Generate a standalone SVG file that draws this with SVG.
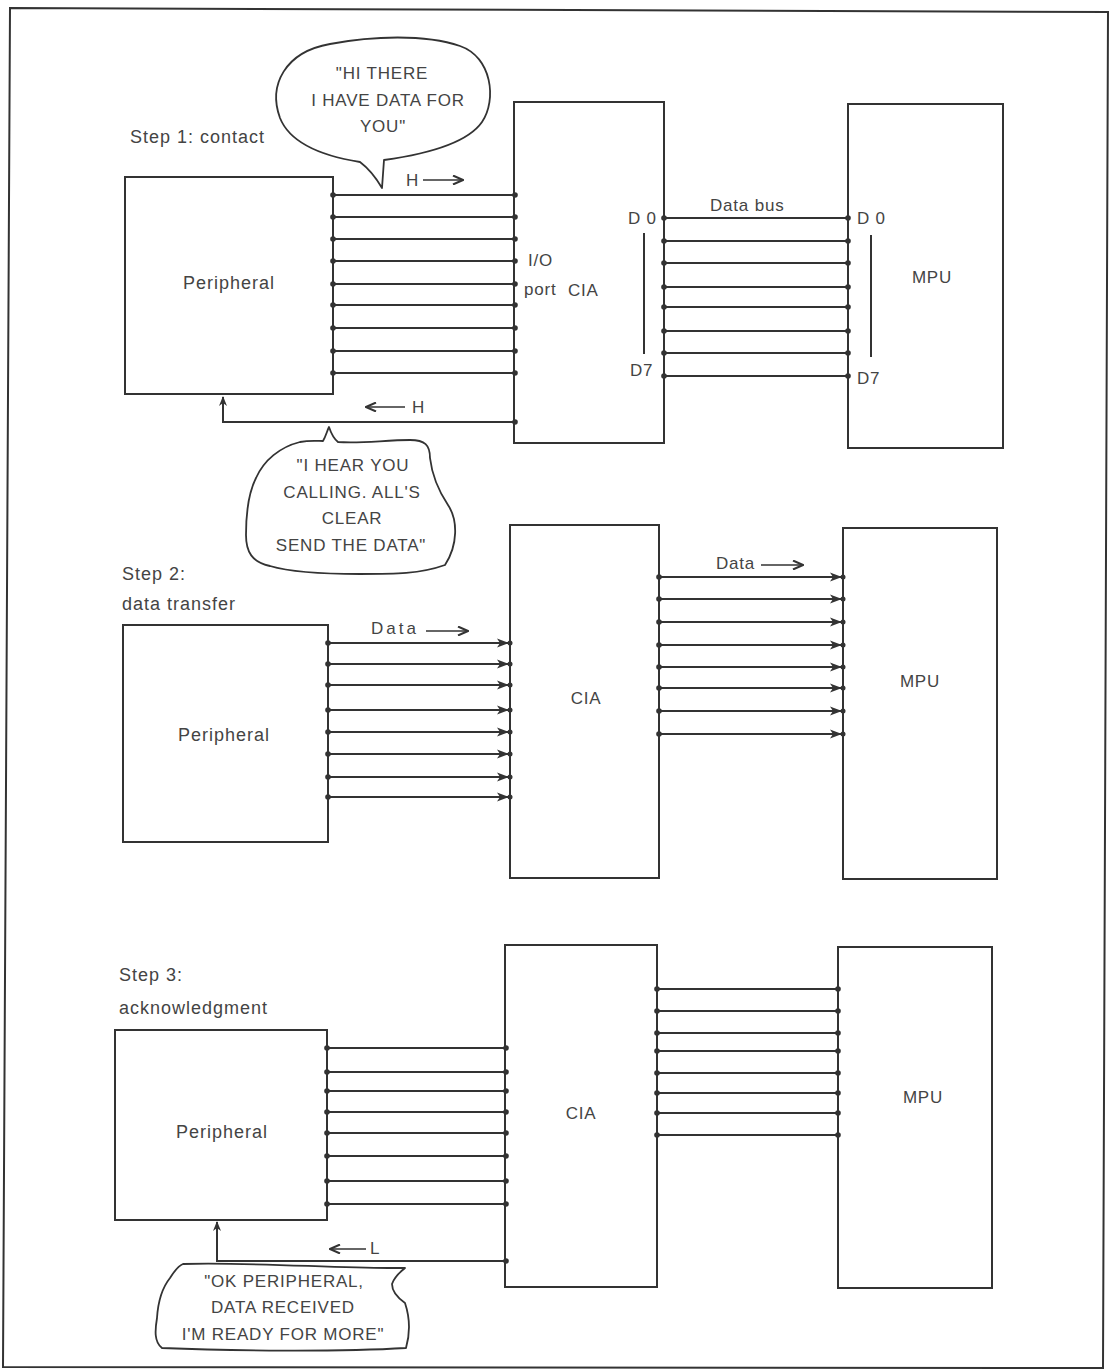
<svg xmlns="http://www.w3.org/2000/svg" width="1114" height="1371" viewBox="0 0 1114 1371">
<defs>
<style>
.box{fill:none;stroke:#333;stroke-width:2}
.w{fill:none;stroke:#333;stroke-width:2}
.thin{fill:none;stroke:#333;stroke-width:1.6}
.dot{fill:#333}
.t{font-family:"Liberation Sans",Arial,sans-serif;font-size:18px;fill:#444;letter-spacing:1px}
.s{font-family:"Liberation Sans",Arial,sans-serif;font-size:17px;fill:#444;letter-spacing:0.8px}
.bub{fill:#fff;stroke:#333;stroke-width:1.8;stroke-linejoin:round}
</style>
<marker id="ah" viewBox="0 0 12 10" refX="11" refY="5" markerWidth="12" markerHeight="10" markerUnits="userSpaceOnUse" orient="auto">
<path d="M0,0.5 L12,5 L0,9.5 L3,5 Z" fill="#333"/>
</marker>
<marker id="up" viewBox="0 0 10 10" refX="9" refY="5" markerWidth="10" markerHeight="10" markerUnits="userSpaceOnUse" orient="auto">
<path d="M0,1 L10,5 L0,9 L3,5 Z" fill="#333"/>
</marker>
<marker id="ch" viewBox="0 0 12 10" refX="11" refY="5" markerWidth="12" markerHeight="10" markerUnits="userSpaceOnUse" orient="auto">
<path d="M1,0.5 L11,5 L1,9.5" fill="none" stroke="#333" stroke-width="2"/>
</marker>
</defs>
<rect width="1114" height="1371" fill="#fff"/>
<path d="M10,8 L1108,12 L1103,1368 L3,1367 Z" fill="none" stroke="#333" stroke-width="2"/>

<!-- STEP 1 -->
<text class="t" x="130" y="143">Step 1: contact</text>
<g id="s1-peripheral"><rect class="box" x="125" y="177" width="208" height="217"/><text class="t" x="229" y="289" text-anchor="middle">Peripheral</text></g>
<g id="s1-cia"><rect class="box" x="514" y="102" width="150" height="341"/><text class="s" x="528" y="266">I/O</text><text class="s" x="524" y="295">port</text><text class="s" x="568" y="296">CIA</text>
<text class="s" x="628" y="224">D 0</text><text class="s" x="630" y="376">D7</text><line class="w" x1="644" y1="233" x2="644" y2="354"/></g>
<g id="s1-mpu"><rect class="box" x="848" y="104" width="155" height="344"/><text class="s" x="932" y="283" text-anchor="middle">MPU</text>
<text class="s" x="857" y="224">D 0</text><text class="s" x="857" y="384">D7</text><line class="w" x1="871" y1="235" x2="871" y2="357"/></g>
<g id="s1-bubble1"><path class="bub" d="M360,162 C335,158 292,148 280,118 C268,85 285,52 330,44 C372,36 425,34 460,46 C492,57 497,100 482,122 C466,145 420,155 384,160 L382,188 C375,176 368,168 360,162 Z"/>
<text class="s" x="382" y="79" text-anchor="middle">"HI THERE</text><text class="s" x="388" y="106" text-anchor="middle">I HAVE DATA FOR</text><text class="s" x="383" y="132" text-anchor="middle">YOU"</text></g>
<g id="s1-bubble2"><path class="bub" d="M323,441 C326,436 327,431 329,427 C331,433 333,438 338,442 C360,444 385,440 410,440 C425,440 430,445 430,458 C432,475 438,490 448,505 C458,520 458,545 445,565 C420,574 395,574 360,574 C320,574 290,572 270,566 C252,562 246,552 246,535 C246,510 250,490 256,478 C264,460 280,447 300,442 C310,440 318,441 323,441 Z"/>
<text class="s" x="353" y="471" text-anchor="middle">"I HEAR YOU</text><text class="s" x="352" y="498" text-anchor="middle">CALLING. ALL'S</text><text class="s" x="352" y="524" text-anchor="middle">CLEAR</text><text class="s" x="351" y="551" text-anchor="middle">SEND THE DATA"</text></g>

<!-- STEP 2 -->
<text class="t" x="122" y="580">Step 2:</text>
<text class="t" x="122" y="610">data transfer</text>
<g id="s2-peripheral"><rect class="box" x="123" y="625" width="205" height="217"/><text class="t" x="224" y="741" text-anchor="middle">Peripheral</text></g>
<g id="s2-cia"><rect class="box" x="510" y="525" width="149" height="353"/><text class="s" x="586" y="704" text-anchor="middle">CIA</text></g>
<g id="s2-mpu"><rect class="box" x="843" y="528" width="154" height="351"/><text class="s" x="920" y="687" text-anchor="middle">MPU</text></g>

<!-- STEP 3 -->
<text class="t" x="119" y="981">Step 3:</text>
<text class="t" x="119" y="1014">acknowledgment</text>
<g id="s3-peripheral"><rect class="box" x="115" y="1030" width="212" height="190"/><text class="t" x="222" y="1138" text-anchor="middle">Peripheral</text></g>
<g id="s3-cia"><rect class="box" x="505" y="945" width="152" height="342"/><text class="s" x="581" y="1119" text-anchor="middle">CIA</text></g>
<g id="s3-mpu"><rect class="box" x="838" y="947" width="154" height="341"/><text class="s" x="923" y="1103" text-anchor="middle">MPU</text></g>
<g id="s3-bubble"><path class="bub" d="M183,1264 C250,1262 330,1268 388,1268 L405,1268 C400,1272 394,1278 392,1284 C392,1292 398,1298 405,1303 C410,1318 410,1334 406,1348 C340,1352 230,1351 162,1348 C154,1342 155,1330 157,1318 C158,1302 162,1288 170,1278 C175,1270 178,1266 183,1264 Z"/>
<text class="s" x="284" y="1287" text-anchor="middle">"OK PERIPHERAL,</text><text class="s" x="283" y="1313" text-anchor="middle">DATA RECEIVED</text><text class="s" x="283" y="1340" text-anchor="middle">I'M READY FOR MORE"</text></g>

<g id="connectors">
<!-- step 1 port lines -->
<g class="w">
<line x1="333" y1="195" x2="515" y2="195"/><line x1="333" y1="217" x2="515" y2="217"/><line x1="333" y1="239" x2="515" y2="239"/><line x1="333" y1="261" x2="515" y2="261"/><line x1="333" y1="284" x2="515" y2="284"/><line x1="333" y1="305" x2="515" y2="305"/><line x1="333" y1="328" x2="515" y2="328"/><line x1="333" y1="351" x2="515" y2="351"/><line x1="333" y1="373" x2="515" y2="373"/>
<polyline points="515,422 223,422 223,397" marker-end="url(#up)"/>
<line x1="664" y1="218" x2="848" y2="218"/><line x1="664" y1="241" x2="848" y2="241"/><line x1="664" y1="263" x2="848" y2="263"/><line x1="664" y1="287" x2="848" y2="287"/><line x1="664" y1="307" x2="848" y2="307"/><line x1="664" y1="331" x2="848" y2="331"/><line x1="664" y1="353" x2="848" y2="353"/><line x1="664" y1="376" x2="848" y2="376"/>
</g>
<g class="dot">
<circle cx="333" cy="195" r="2.8"/><circle cx="333" cy="217" r="2.8"/><circle cx="333" cy="239" r="2.8"/><circle cx="333" cy="261" r="2.8"/><circle cx="333" cy="284" r="2.8"/><circle cx="333" cy="305" r="2.8"/><circle cx="333" cy="328" r="2.8"/><circle cx="333" cy="351" r="2.8"/><circle cx="333" cy="373" r="2.8"/>
<circle cx="515" cy="195" r="2.8"/><circle cx="515" cy="217" r="2.8"/><circle cx="515" cy="239" r="2.8"/><circle cx="515" cy="261" r="2.8"/><circle cx="515" cy="284" r="2.8"/><circle cx="515" cy="305" r="2.8"/><circle cx="515" cy="328" r="2.8"/><circle cx="515" cy="351" r="2.8"/><circle cx="515" cy="373" r="2.8"/><circle cx="515" cy="422" r="2.8"/>
<circle cx="664" cy="218" r="2.8"/><circle cx="664" cy="241" r="2.8"/><circle cx="664" cy="263" r="2.8"/><circle cx="664" cy="287" r="2.8"/><circle cx="664" cy="307" r="2.8"/><circle cx="664" cy="331" r="2.8"/><circle cx="664" cy="353" r="2.8"/><circle cx="664" cy="376" r="2.8"/>
<circle cx="848" cy="218" r="2.8"/><circle cx="848" cy="241" r="2.8"/><circle cx="848" cy="263" r="2.8"/><circle cx="848" cy="287" r="2.8"/><circle cx="848" cy="307" r="2.8"/><circle cx="848" cy="331" r="2.8"/><circle cx="848" cy="353" r="2.8"/><circle cx="848" cy="376" r="2.8"/>
</g>
<text class="s" x="406" y="186">H</text>
<line class="thin" x1="423" y1="180" x2="463" y2="180" marker-end="url(#ch)"/>
<text class="s" x="412" y="413">H</text>
<line class="thin" x1="405" y1="407" x2="366" y2="407" marker-end="url(#ch)"/>
<text class="s" x="710" y="211">Data bus</text>

<!-- step 2 -->
<g class="w">
<line x1="328" y1="643" x2="508" y2="643" marker-end="url(#ah)"/><line x1="328" y1="664" x2="508" y2="664" marker-end="url(#ah)"/><line x1="328" y1="685" x2="508" y2="685" marker-end="url(#ah)"/><line x1="328" y1="710" x2="508" y2="710" marker-end="url(#ah)"/><line x1="328" y1="732" x2="508" y2="732" marker-end="url(#ah)"/><line x1="328" y1="754" x2="508" y2="754" marker-end="url(#ah)"/><line x1="328" y1="777" x2="508" y2="777" marker-end="url(#ah)"/><line x1="328" y1="797" x2="508" y2="797" marker-end="url(#ah)"/>
<line x1="659" y1="577" x2="841" y2="577" marker-end="url(#ah)"/><line x1="659" y1="599" x2="841" y2="599" marker-end="url(#ah)"/><line x1="659" y1="622" x2="841" y2="622" marker-end="url(#ah)"/><line x1="659" y1="645" x2="841" y2="645" marker-end="url(#ah)"/><line x1="659" y1="667" x2="841" y2="667" marker-end="url(#ah)"/><line x1="659" y1="688" x2="841" y2="688" marker-end="url(#ah)"/><line x1="659" y1="711" x2="841" y2="711" marker-end="url(#ah)"/><line x1="659" y1="734" x2="841" y2="734" marker-end="url(#ah)"/>
</g>
<g class="dot">
<circle cx="328" cy="643" r="2.8"/><circle cx="328" cy="664" r="2.8"/><circle cx="328" cy="685" r="2.8"/><circle cx="328" cy="710" r="2.8"/><circle cx="328" cy="732" r="2.8"/><circle cx="328" cy="754" r="2.8"/><circle cx="328" cy="777" r="2.8"/><circle cx="328" cy="797" r="2.8"/>
<circle cx="510" cy="643" r="2.5"/><circle cx="510" cy="664" r="2.5"/><circle cx="510" cy="685" r="2.5"/><circle cx="510" cy="710" r="2.5"/><circle cx="510" cy="732" r="2.5"/><circle cx="510" cy="754" r="2.5"/><circle cx="510" cy="777" r="2.5"/><circle cx="510" cy="797" r="2.5"/>
<circle cx="659" cy="577" r="2.8"/><circle cx="659" cy="599" r="2.8"/><circle cx="659" cy="622" r="2.8"/><circle cx="659" cy="645" r="2.8"/><circle cx="659" cy="667" r="2.8"/><circle cx="659" cy="688" r="2.8"/><circle cx="659" cy="711" r="2.8"/><circle cx="659" cy="734" r="2.8"/>
<circle cx="843" cy="577" r="2.5"/><circle cx="843" cy="599" r="2.5"/><circle cx="843" cy="622" r="2.5"/><circle cx="843" cy="645" r="2.5"/><circle cx="843" cy="667" r="2.5"/><circle cx="843" cy="688" r="2.5"/><circle cx="843" cy="711" r="2.5"/><circle cx="843" cy="734" r="2.5"/>
</g>
<text class="s" x="371" y="634" style="letter-spacing:3px">Data</text>
<line class="thin" x1="426" y1="631" x2="468" y2="631" marker-end="url(#ch)"/>
<text class="s" x="716" y="569">Data</text>
<line class="thin" x1="761" y1="565" x2="803" y2="565" marker-end="url(#ch)"/>

<!-- step 3 -->
<g class="w">
<line x1="327" y1="1048" x2="506" y2="1048"/><line x1="327" y1="1072" x2="506" y2="1072"/><line x1="327" y1="1091" x2="506" y2="1091"/><line x1="327" y1="1112" x2="506" y2="1112"/><line x1="327" y1="1133" x2="506" y2="1133"/><line x1="327" y1="1156" x2="506" y2="1156"/><line x1="327" y1="1181" x2="506" y2="1181"/><line x1="327" y1="1204" x2="506" y2="1204"/>
<polyline points="506,1261 217,1261 217,1222" marker-end="url(#up)"/>
<line x1="657" y1="989" x2="838" y2="989"/><line x1="657" y1="1011" x2="838" y2="1011"/><line x1="657" y1="1033" x2="838" y2="1033"/><line x1="657" y1="1051" x2="838" y2="1051"/><line x1="657" y1="1073" x2="838" y2="1073"/><line x1="657" y1="1093" x2="838" y2="1093"/><line x1="657" y1="1113" x2="838" y2="1113"/><line x1="657" y1="1135" x2="838" y2="1135"/>
</g>
<g class="dot">
<circle cx="327" cy="1048" r="2.8"/><circle cx="327" cy="1072" r="2.8"/><circle cx="327" cy="1091" r="2.8"/><circle cx="327" cy="1112" r="2.8"/><circle cx="327" cy="1133" r="2.8"/><circle cx="327" cy="1156" r="2.8"/><circle cx="327" cy="1181" r="2.8"/><circle cx="327" cy="1204" r="2.8"/>
<circle cx="506" cy="1048" r="2.8"/><circle cx="506" cy="1072" r="2.8"/><circle cx="506" cy="1091" r="2.8"/><circle cx="506" cy="1112" r="2.8"/><circle cx="506" cy="1133" r="2.8"/><circle cx="506" cy="1156" r="2.8"/><circle cx="506" cy="1181" r="2.8"/><circle cx="506" cy="1204" r="2.8"/><circle cx="506" cy="1261" r="2.8"/>
<circle cx="657" cy="989" r="2.8"/><circle cx="657" cy="1011" r="2.8"/><circle cx="657" cy="1033" r="2.8"/><circle cx="657" cy="1051" r="2.8"/><circle cx="657" cy="1073" r="2.8"/><circle cx="657" cy="1093" r="2.8"/><circle cx="657" cy="1113" r="2.8"/><circle cx="657" cy="1135" r="2.8"/>
<circle cx="838" cy="989" r="2.8"/><circle cx="838" cy="1011" r="2.8"/><circle cx="838" cy="1033" r="2.8"/><circle cx="838" cy="1051" r="2.8"/><circle cx="838" cy="1073" r="2.8"/><circle cx="838" cy="1093" r="2.8"/><circle cx="838" cy="1113" r="2.8"/><circle cx="838" cy="1135" r="2.8"/>
</g>
<text class="s" x="370" y="1254">L</text>
<line class="thin" x1="366" y1="1249" x2="330" y2="1249" marker-end="url(#ch)"/>
</g>
</svg>
